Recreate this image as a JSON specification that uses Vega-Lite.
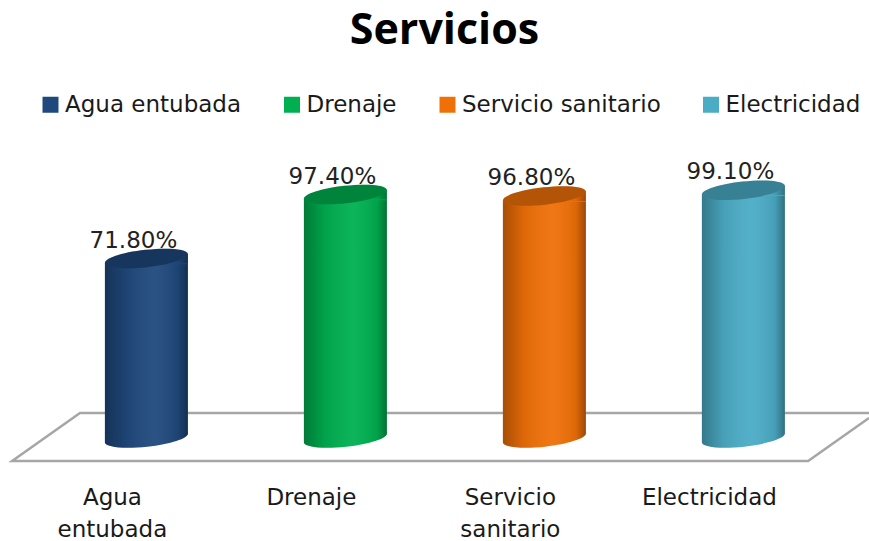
{
"$schema":"https://vega.github.io/schema/vega-lite/v6.json",
"width":869,"height":300,
"autosize":{"type":"none"},
"padding":{"left":0,"right":0,"top":163,"bottom":78},
"background":"white",
"title":{"text":"Servicios","font":"Open Sans","fontWeight":"bold","fontSize":43,"color":"#000000","anchor":"middle","dx":10,"offset":40},
"config":{"view":{"stroke":null}},
"datasets":{
"servicios":[
{"servicio":"Agua entubada","cobertura":0.718},
{"servicio":"Drenaje","cobertura":0.974},
{"servicio":"Servicio sanitario","cobertura":0.968},
{"servicio":"Electricidad","cobertura":0.991}],
"piso":[
{"pos":3.633,"nivel":0.1,"orden":0},
{"pos":-0.332,"nivel":0.1,"orden":1},
{"pos":-0.673,"nivel":-0.092,"orden":2},
{"pos":3.327,"nivel":-0.092,"orden":3},
{"pos":3.633,"nivel":0.08,"orden":4}]
},
"layer":[
{"data":{"name":"piso"},
"mark":{"type":"line","color":"#a6a6a6","strokeWidth":2.5,"strokeJoin":"miter"},
"encoding":{
"x":{"field":"pos","type":"quantitative","scale":{"domain":[-0.734,3.633],"nice":false,"zero":false},"axis":null},
"y":{"field":"nivel","type":"quantitative","scale":{"domain":[-0.1,1.1],"nice":false},"axis":null},
"order":{"field":"orden"}}},
{"data":{"name":"servicios"},
"encoding":{
"x":{"field":"servicio","type":"nominal","sort":["Agua entubada","Drenaje","Servicio sanitario","Electricidad"],
"scale":{"type":"band","paddingInner":0.583,"paddingOuter":0.475,"align":0.555},
"axis":{"title":null,"domain":false,"ticks":false,"labelAngle":0,"labelFont":"DejaVu Sans","labelFontSize":23,"labelColor":"#1a1a1a","labelPadding":34,"labelOffset":-34,"labelLineHeight":32,"labelBaseline":"middle","labelExpr":"datum.value=='Agua entubada'?['Agua','entubada']:datum.value=='Servicio sanitario'?['Servicio','sanitario']:datum.value"}}
},
"layer":[
{"mark":{"type":"bar","yOffset":5,"y2Offset":-5},
"encoding":{"y":{"field":"cobertura","type":"quantitative","scale":{"domain":[-0.1,1.1],"nice":false}},
"y2":{"datum":0},
"color":{"field":"servicio","type":"nominal",
"sort":["Agua entubada","Drenaje","Servicio sanitario","Electricidad"],
"scale":{"domain":["Agua entubada","Drenaje","Servicio sanitario","Electricidad"],"range":["#1f497d","#00b050","#f07008","#4bacc6"]},
"legend":{"title":null,"orient":"none","legendX":39,"legendY":-70,"direction":"horizontal","columns":4,"gridAlign":"each","columnPadding":38.5,"symbolType":"square","symbolSize":256,"symbolStrokeWidth":0,"labelOffset":3,"labelFont":"DejaVu Sans","labelFontSize":23,"labelColor":"#1a1a1a","labelLimit":400}}}},
{"mark":{"type":"point","filled":true,"opacity":1,"size":6889,"shape":"M-1,0.11 L-1,-0.13 L1,-0.13 L1,-0.11 A1.006,0.21 -6.3 1 1 -1,0.11 Z"},
"encoding":{"y":{"datum":0,"type":"quantitative"},
"color":{"field":"servicio","type":"nominal"}}},
{"mark":{"type":"point","filled":true,"opacity":1,"size":6889,"shape":"M-1,0.11 L-1,-0.121 L1,-0.121 L1,-0.11 A1.006,0.21 -6.3 1 1 -1,0.11 Z",
"fill":{"gradient":"linear","x1":0,"y1":0,"x2":1,"y2":0,"stops":[{"offset":0,"color":"rgba(0,0,0,0.3)"},{"offset":0.25,"color":"rgba(0,0,0,0.08)"},{"offset":0.6,"color":"rgba(255,255,255,0.05)"},{"offset":0.88,"color":"rgba(0,0,0,0.08)"},{"offset":1,"color":"rgba(0,0,0,0.35)"}]}},
"encoding":{"y":{"datum":0,"type":"quantitative"}}},
{"mark":{"type":"bar","yOffset":5,"y2Offset":-5,"fill":{"gradient":"linear","x1":0,"y1":0,"x2":1,"y2":0,"stops":[{"offset":0,"color":"rgba(0,0,0,0.3)"},{"offset":0.25,"color":"rgba(0,0,0,0.08)"},{"offset":0.6,"color":"rgba(255,255,255,0.05)"},{"offset":0.88,"color":"rgba(0,0,0,0.08)"},{"offset":1,"color":"rgba(0,0,0,0.35)"}]}},
"encoding":{"y":{"field":"cobertura","type":"quantitative"},"y2":{"datum":0}}},
{"mark":{"type":"point","filled":true,"opacity":1,"size":6889,"shape":"M-1,0.11 L-1,0.14 L1,0.14 L1,-0.11 Z"},
"encoding":{"y":{"field":"cobertura","type":"quantitative"},
"color":{"field":"servicio","type":"nominal"}}},
{"mark":{"type":"point","filled":true,"opacity":1,"size":6889,"shape":"M-1,0.11 L-1,0.121 L1,0.121 L1,-0.11 Z",
"fill":{"gradient":"linear","x1":0,"y1":0,"x2":1,"y2":0,"stops":[{"offset":0,"color":"rgba(0,0,0,0.3)"},{"offset":0.25,"color":"rgba(0,0,0,0.08)"},{"offset":0.6,"color":"rgba(255,255,255,0.05)"},{"offset":0.88,"color":"rgba(0,0,0,0.08)"},{"offset":1,"color":"rgba(0,0,0,0.35)"}]}},
"encoding":{"y":{"field":"cobertura","type":"quantitative"}}},
{"mark":{"type":"point","filled":true,"opacity":1,"size":6889,"shape":"M-1,0.11 A1.006,0.21 -6.3 1 1 1,-0.11 A1.006,0.21 -6.3 1 1 -1,0.11 Z"},
"encoding":{"y":{"field":"cobertura","type":"quantitative"},
"color":{"field":"servicio","type":"nominal"}}},
{"mark":{"type":"point","filled":true,"opacity":0.25,"color":"#000000","size":6889,"shape":"M-1,0.11 A1.006,0.21 -6.3 1 1 1,-0.11 A1.006,0.21 -6.3 1 1 -1,0.11 Z"},
"encoding":{"y":{"field":"cobertura","type":"quantitative"}}},
{"mark":{"type":"text","font":"DejaVu Sans","fontSize":23,"color":"#222222","dx":-13,"dy":-18,"baseline":"middle"},
"encoding":{"y":{"field":"cobertura","type":"quantitative"},
"text":{"field":"cobertura","type":"quantitative","format":".2%"}}}
]}
],
"resolve":{"scale":{"x":"independent"}}
}
